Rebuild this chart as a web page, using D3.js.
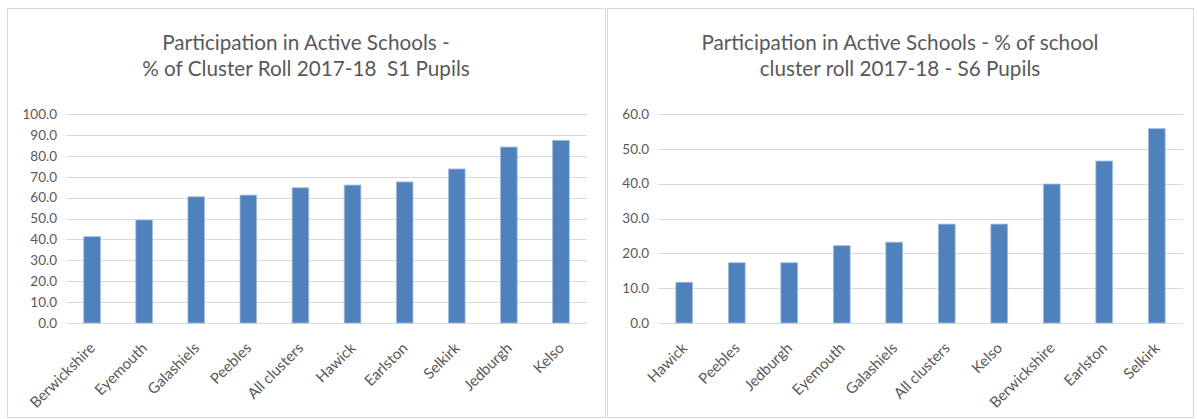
<!DOCTYPE html>
<html>
<head>
<meta charset="utf-8">
<script src="https://cdnjs.cloudflare.com/ajax/libs/d3/7.8.5/d3.min.js"></script>
<style>
    body { margin: 0; background: #fff; }
    text { font-family: Lato, "Open Sans", sans-serif; fill: #595959; }
    tspan { white-space: pre; }
</style>
</head>
<body>
<div class="chart"></div>
<script>
// S1 pupils chart
var s1Clusters = ["Berwickshire", "Eyemouth", "Galashiels", "Peebles", "All clusters",
    "Hawick", "Earlston", "Selkirk", "Jedburgh", "Kelso"];
var s1Values = [41.3, 49.3, 60.4, 61.2, 64.7, 66.0, 67.5, 73.7, 84.2, 87.4];
var s1Ticks = [0, 10, 20, 30, 40, 50, 60, 70, 80, 90, 100];
var s1Title = ["Participation in Active Schools -", "% of Cluster Roll 2017-18  S1 Pupils"];

// S6 pupils chart
var s6Clusters = ["Hawick", "Peebles", "Jedburgh", "Eyemouth", "Galashiels",
    "All clusters", "Kelso", "Berwickshire", "Earlston", "Selkirk"];
var s6Values = [11.7, 17.3, 17.3, 22.2, 23.2, 28.4, 28.4, 39.9, 46.5, 55.8];
var s6Ticks = [0, 10, 20, 30, 40, 50, 60];
var s6Title = ["Participation in Active Schools - % of school", "cluster roll 2017-18 - S6 Pupils"];

var svg = d3.select(".chart")
    .append("svg")
    .attr("width", 1197)
    .attr("height", 419);

// draws one chart panel
function drawPanel(box, plot, clusters, values, ticks, title) {
    var g = svg.append("g");

    // panel border
    g.append("rect")
        .attr("x", box.x + 0.5)
        .attr("y", box.y + 0.5)
        .attr("width", box.w)
        .attr("height", box.h)
        .attr("fill", "#fff")
        .attr("stroke", "#d9d9d9");

    var x = d3.scaleBand()
        .domain(clusters)
        .range([plot.left, plot.right])
        .paddingInner(0.68)
        .paddingOuter(0.34);

    var y = d3.scaleLinear()
        .domain([0, d3.max(ticks)])
        .range([plot.bottom, plot.top]);

    // gridlines
    g.append("g")
        .attr("transform", "translate(" + plot.left + ",0)")
        .call(d3.axisLeft(y).tickValues(ticks).tickSize(-(plot.right - plot.left)).tickFormat(""))
        .call(function(a) {
            a.select(".domain").remove();
            a.selectAll("line").attr("stroke", "#d9d9d9").attr("shape-rendering", "crispEdges");
        });

    // y tick labels
    g.append("g")
        .attr("transform", "translate(" + (plot.left - 9) + ",0)")
        .call(d3.axisLeft(y).tickValues(ticks).tickSize(0).tickPadding(0).tickFormat(d3.format(".1f")))
        .call(function(a) {
            a.select(".domain").remove();
            a.selectAll("text")
                .attr("font-size", 13.5)
                .attr("font-family", null)
                .style("fill", "#595959");
        });

    // bars
    g.selectAll(".bar")
        .data(values)
        .enter()
        .append("rect")
        .attr("class", "bar")
        .attr("x", function(d, i) { return x(clusters[i]); })
        .attr("y", function(d) { return y(d); })
        .attr("width", x.bandwidth())
        .attr("height", function(d) { return plot.bottom - y(d); })
        .attr("fill", "#4f81bd")
        .attr("stroke", "#a7bfdf")
        .attr("stroke-width", 0.8);

    // category labels, rotated
    g.append("g")
        .attr("transform", "translate(0," + plot.bottom + ")")
        .call(d3.axisBottom(x).tickSize(0).tickPadding(0))
        .call(function(a) {
            a.select(".domain").remove();
            a.selectAll("text")
                .attr("font-size", 15)
                .attr("font-family", null)
                .style("fill", "#595959")
                .attr("text-anchor", "end")
                .attr("dy", null)
                .attr("transform", "translate(4,26) rotate(-45)");
        });

    // title
    g.append("text")
        .attr("x", (box.x + box.x + box.w) / 2)
        .attr("y", 50)
        .attr("text-anchor", "middle")
        .attr("font-size", 20.7)
        .selectAll("tspan")
        .data(title)
        .enter()
        .append("tspan")
        .attr("x", (box.x + box.x + box.w) / 2)
        .attr("dy", function(d, i) { return i === 0 ? 0 : 26; })
        .text(function(d) { return d; });
}

drawPanel({ x: 7, y: 8, w: 598, h: 409 },
    { left: 66, right: 587, top: 114, bottom: 323 },
    s1Clusters, s1Values, s1Ticks, s1Title);

drawPanel({ x: 607, y: 8, w: 586, h: 409 },
    { left: 658, right: 1183, top: 114, bottom: 323 },
    s6Clusters, s6Values, s6Ticks, s6Title);
</script>
</body>
</html>
